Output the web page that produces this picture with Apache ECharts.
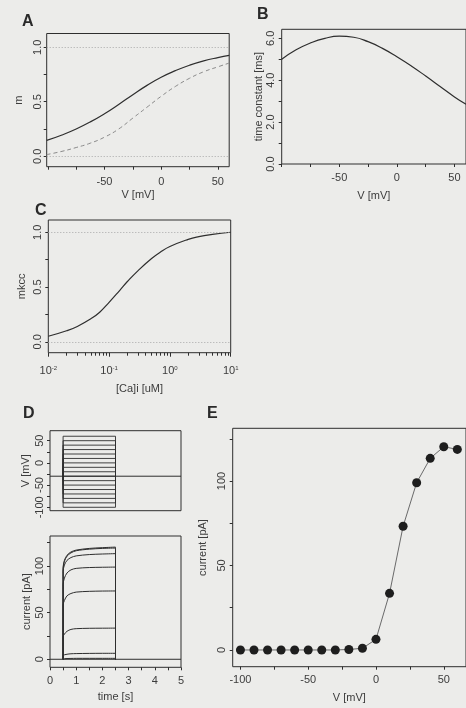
<!DOCTYPE html>
<html><head><meta charset="utf-8">
<script src="https://cdn.jsdelivr.net/npm/echarts@6/dist/echarts.min.js"></script>
<style>html,body{margin:0;padding:0;background:#ececea}#c{width:466px;height:708px}</style>
</head><body><div id="c"></div>
<script>
// ---------- Panel A: steady-state activation m vs V ----------
const vA = [-101, -87.5, -75, -62.5, -50, -37.5, -25, -12.5, 0, 12.5, 25, 37.5, 50, 60];
const mSolid = [0.145, 0.195, 0.25, 0.315, 0.39, 0.475, 0.565, 0.65, 0.725, 0.785, 0.835, 0.875, 0.905, 0.925];
const mDashed = [0.015, 0.045, 0.08, 0.12, 0.175, 0.25, 0.35, 0.45, 0.55, 0.64, 0.715, 0.775, 0.82, 0.855];
// ---------- Panel B: time constant vs V ----------
const vB = [-100, -87.5, -75, -62.5, -50, -37.5, -25, -12.5, 0, 12.5, 25, 37.5, 50, 60];
const tauB = [5.0, 5.45, 5.78, 6.0, 6.1, 6.05, 5.84, 5.52, 5.12, 4.68, 4.2, 3.7, 3.2, 2.85];
// ---------- Panel C: mkcc vs [Ca]i ----------
const caC = [0.01, 0.02, 0.03, 0.05, 0.07, 0.1, 0.15, 0.2, 0.3, 0.5, 0.7, 1, 2, 3, 5, 10];
const mkcc = [0.05, 0.10, 0.14, 0.21, 0.27, 0.36, 0.47, 0.55, 0.65, 0.76, 0.82, 0.87, 0.935, 0.96, 0.98, 1.0];
// ---------- Panel D: voltage protocol and current traces ----------
const stepVolts = [-100, -90, -80, -70, -60, -50, -40, -30, -20, -10, 0, 10, 20, 30, 40, 50, 60];
const holdV = -30;
const stepOn = 0.5, stepOff = 2.5, tEnd = 5;
const traceTimes = [0.5, 0.55, 0.65, 0.8, 1.0, 1.5, 2.0, 2.5];
const traceM10 = [0.4, 0.6, 0.8, 0.9, 1, 1, 1, 1];
const trace0 = [4.2, 4.8, 5.4, 5.9, 6.1, 6.3, 6.4, 6.4];
const trace10 = [24, 27, 30, 32, 32.8, 33.2, 33.3, 33.4];
const trace20 = [58, 63, 68, 70.5, 72, 72.8, 73.1, 73.2];
const trace30 = [80, 87, 92.5, 95.8, 97.4, 98.3, 98.6, 98.8];
const trace40 = [94, 101, 106, 109, 110.8, 112.2, 112.8, 113.2];
const trace50 = [98, 106, 111.5, 115, 117, 118.8, 119.6, 120.2];
const trace60 = [97, 105, 110.5, 114, 116.3, 118, 118.8, 119.2];
// ---------- Panel E: I-V relation ----------
const vE = [-100, -90, -80, -70, -60, -50, -40, -30, -20, -10, 0, 10, 20, 30, 40, 50, 60];
const iE = [0, 0, 0, 0, 0, 0, 0, 0, 0.3, 1, 6.3, 33.5, 73.2, 99, 113.4, 120.3, 118.7];
// tick labels
const ticksA_x = [-100, -75, -50, -25, 0, 25, 50], labA_x = [-50, 0, 50];
const ticksUnit = [0, 0.25, 0.5, 0.75, 1], labUnit = [0, 0.5, 1];
const ticksB_y = [0, 1, 2, 3, 4, 5, 6], labB_y = [0, 2, 4, 6];
const labC_x = [0.01, 0.1, 1, 10];
const minorC_x = [0.02,0.03,0.04,0.05,0.06,0.07,0.08,0.09,0.2,0.3,0.4,0.5,0.6,0.7,0.8,0.9,2,3,4,5,6,7,8,9];
const ticksDv = [-100, -75, -50, -25, 0, 25, 50], labDv = [-100, -50, 0, 50];
const ticksDt = [0,0.5,1,1.5,2,2.5,3,3.5,4,4.5,5], labDt = [0,1,2,3,4,5];
const ticksI = [0, 25, 50, 75, 100, 125], labI = [0, 50, 100];
const ticksE_x = [-100, -75, -50, -25, 0, 25, 50], labE_x = [-100, -50, 0, 50];

const INK = '#2e2e2e', TXT = '#3c3c3c', FONT = '"Liberation Sans", Arial, sans-serif';
const chart = echarts.init(document.getElementById('c'), null, {renderer: 'canvas'});

function grid(l, t, w, h) {
  return {left: l, top: t, width: w, height: h, show: true, borderColor: INK, borderWidth: 1, backgroundColor: 'transparent', containLabel: false};
}
function xAx(gi, min, max, ticks, labs, name, gap, margin) {
  return {
    type: 'value', gridIndex: gi, min: min, max: max, position: 'bottom',
    splitLine: {show: false}, axisLine: {show: false, onZero: false},
    axisTick: ticks ? {show: true, customValues: ticks, length: 3, lineStyle: {color: INK}} : {show: false},
    axisLabel: labs ? {show: true, customValues: labs, margin: margin || 8, color: TXT, fontSize: 11, fontFamily: FONT,
      formatter: v => String(v)} : {show: false},
    name: name, nameLocation: 'middle', nameGap: gap,
    nameTextStyle: {color: TXT, fontSize: 11, fontFamily: FONT}
  };
}
function yAx(gi, min, max, ticks, labs, name, gap, fmt, margin) {
  return {
    type: 'value', gridIndex: gi, min: min, max: max, position: 'left',
    splitLine: {show: false}, axisLine: {show: false, onZero: false},
    axisTick: {show: true, customValues: ticks, length: 3, lineStyle: {color: INK}},
    axisLabel: {show: true, customValues: labs, rotate: 90, margin: margin || 5, color: TXT, fontSize: 11, fontFamily: FONT,
      formatter: fmt || (v => String(v))},
    name: name, nameLocation: 'middle', nameGap: gap, nameRotate: 90,
    nameTextStyle: {color: TXT, fontSize: 11, fontFamily: FONT}
  };
}
const f1 = v => v.toFixed(1);
const zip = (a, b) => a.map((x, i) => [x, b[i]]);
const refLines = {silent: true, symbol: 'none', label: {show: false},
  lineStyle: {color: '#a8a8a8', type: [1, 2], width: 1}, data: [{yAxis: 0}, {yAxis: 1}]};

const grids = [
  grid(46.7, 33.5, 182.5, 133.2),   // 0 A
  grid(281.7, 29.3, 186.7, 134.7),  // 1 B
  grid(48.3, 220, 182.4, 132.7),    // 2 C
  grid(50, 430.7, 131, 80),         // 3 D top
  grid(50, 536, 131, 131.3),        // 4 D bottom
  grid(232.7, 428.3, 240.1, 238.4)  // 5 E
];

const xAxes = [
  xAx(0, -101, 60, ticksA_x, labA_x, 'V [mV]', 23, 10),
  xAx(1, -100, 60, ticksA_x, labA_x, 'V [mV]', 26, 8),
  {type: 'log', logBase: 10, gridIndex: 2, min: 0.01, max: 10, position: 'bottom',
   splitLine: {show: false}, axisLine: {show: false, onZero: false}, minorTick: {show: false},
   axisTick: {show: true, customValues: labC_x, length: 4, lineStyle: {color: INK}},
   axisLabel: {show: true, customValues: labC_x, margin: 13, color: TXT, fontSize: 11, fontFamily: FONT,
     formatter: v => '10{s|' + Math.round(Math.log10(v)) + '}',
     rich: {s: {fontSize: 6, verticalAlign: 'top', lineHeight: 9, color: TXT, fontFamily: FONT}}},
   name: '[Ca]i [uM]', nameLocation: 'middle', nameGap: 31,
   nameTextStyle: {color: TXT, fontSize: 11, fontFamily: FONT}},
  {type: 'log', logBase: 10, gridIndex: 2, min: 0.01, max: 10, position: 'bottom',
   splitLine: {show: false}, axisLine: {show: false, onZero: false}, axisLabel: {show: false},
   axisTick: {show: true, customValues: minorC_x, length: 3, lineStyle: {color: INK}}},
  xAx(3, 0, 5, null, null, '', 0),
  xAx(4, 0, 5, ticksDt, labDt, 'time [s]', 24, 8),
  xAx(5, -105.7, 66.4, ticksE_x, labE_x, 'V [mV]', 26, 8)
];
const yAxes = [
  yAx(0, -0.096, 1.126, ticksUnit, labUnit, 'm', 22, f1, 3),
  yAx(1, 0, 6.43, ticksB_y, labB_y, 'time constant [ms]', 14, f1, 5),
  yAx(2, -0.10, 1.112, ticksUnit, labUnit, 'mkcc', 21, f1, 5),
  yAx(3, -107.7, 72.5, ticksDv, labDv, 'V [mV]', 19),
  yAx(4, -8.6, 132.1, ticksI, labI, 'current [pA]', 18),
  yAx(5, -9.9, 131.2, ticksI, labI, 'current [pA]', 20)
];

const lineBase = {type: 'line', showSymbol: false, symbol: 'none', silent: true, animation: false};
const series = [];
series.push(Object.assign({}, lineBase, {xAxisIndex: 0, yAxisIndex: 0, smooth: true, data: zip(vA, mSolid),
  lineStyle: {color: INK, width: 1.2}, markLine: refLines}));
series.push(Object.assign({}, lineBase, {xAxisIndex: 0, yAxisIndex: 0, smooth: true, data: zip(vA, mDashed),
  lineStyle: {color: '#8a8a8a', width: 1, type: [4, 3]}}));
series.push(Object.assign({}, lineBase, {xAxisIndex: 1, yAxisIndex: 1, smooth: true, data: zip(vB, tauB),
  lineStyle: {color: INK, width: 1.2}}));
series.push(Object.assign({}, lineBase, {xAxisIndex: 2, yAxisIndex: 2, smooth: true, data: zip(caC, mkcc),
  lineStyle: {color: INK, width: 1.2}, markLine: refLines}));
// D top: voltage protocol (holding line + one rectangle per step)
series.push(Object.assign({}, lineBase, {xAxisIndex: 4, yAxisIndex: 3, data: [[0, holdV], [tEnd, holdV]],
  lineStyle: {color: INK, width: 1}}));
stepVolts.forEach(v => {
  series.push(Object.assign({}, lineBase, {xAxisIndex: 4, yAxisIndex: 3,
    data: [[stepOn, holdV], [stepOn, v], [stepOff, v], [stepOff, holdV]],
    lineStyle: {color: INK, width: 0.9}}));
});
// D bottom: current traces
series.push(Object.assign({}, lineBase, {xAxisIndex: 5, yAxisIndex: 4, data: [[0, 0], [tEnd, 0]],
  lineStyle: {color: INK, width: 1}}));
[traceM10, trace0, trace10, trace20, trace30, trace40, trace50, trace60].forEach(tr => {
  const d = [[stepOn, 0]].concat(zip(traceTimes, tr)).concat([[stepOff, 0]]);
  series.push(Object.assign({}, lineBase, {xAxisIndex: 5, yAxisIndex: 4, smooth: 0.3, data: d,
    lineStyle: {color: INK, width: 1}}));
});
// E: I-V
series.push({type: 'line', xAxisIndex: 6, yAxisIndex: 5, data: zip(vE, iE), symbol: 'circle', symbolSize: 9,
  silent: true, animation: false,
  itemStyle: {color: '#1e1e1e', borderWidth: 0}, lineStyle: {color: '#6a6a6a', width: 1}});

const letter = (t, x, y) => ({type: 'text', left: x, top: y, silent: true,
  style: {text: t, fill: '#2a2a2a', font: 'bold 16px ' + FONT}});

chart.setOption({
  backgroundColor: '#ececea',
  animation: false,
  grid: grids, xAxis: xAxes, yAxis: yAxes, series: series,
  graphic: [letter('A', 22, 14), letter('B', 257, 7), letter('C', 35, 203), letter('D', 23, 406), letter('E', 207, 406)]
});
</script></body></html>
